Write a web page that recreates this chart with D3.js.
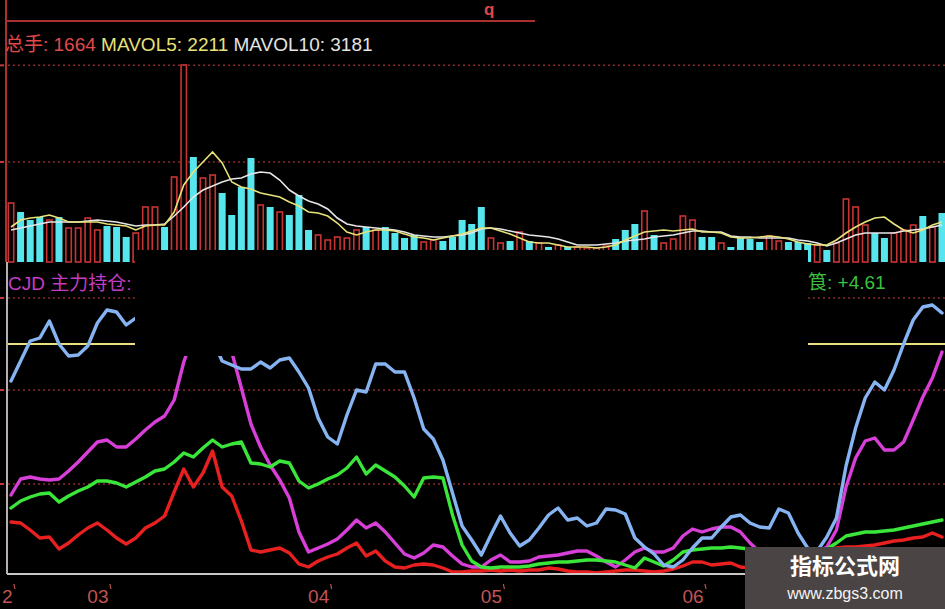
<!DOCTYPE html>
<html><head><meta charset="utf-8">
<script src="https://cdn.jsdelivr.net/npm/d3@7"></script>
<style>html,body{margin:0;padding:0;background:#000;overflow:hidden}</style>
</head><body>
<svg id="chart" width="945" height="609"></svg>
<script>
// ---------- DATA ----------
const volume = [1770,1500,1260,1350,1260,1350,1020,1020,1320,960,
1080,1050,750,870,1650,1650,1050,2550,5910,3150,
2520,2610,2070,1410,2250,3120,1710,1650,1500,1410,
2010,960,810,660,750,720,960,1050,960,1050,
870,720,810,600,660,630,750,1260,1140,1650,
720,570,630,900,630,570,450,510,450,450,
420,420,480,690,960,1140,1530,810,570,690,
1380,1260,750,750,570,450,720,690,600,780,
630,600,600,570,510,360,570,1890,1650,1110,
870,720,870,960,1110,1380,1050,1470];
// 1 = up day (hollow red), 0 = down day (cyan)
const volDir = [1,0,0,0,1,0,1,1,1,1,
0,0,0,1,1,1,0,1,1,0,
1,1,0,0,0,0,1,0,1,0,
0,0,1,1,1,1,1,0,1,0,
0,0,0,1,1,0,0,0,0,0,
1,1,0,1,0,1,0,1,0,1,
1,1,1,0,0,0,1,0,1,1,
1,1,0,0,1,0,0,0,0,1,
1,0,0,0,1,0,1,1,1,1,
0,0,1,1,1,0,1,0];
const mavol5 = [1050,1260,1320,1350,1410,1320,1200,1200,1200,1200,
1140,1110,1080,960,1080,1110,1110,1500,2310,2700,
3000,3300,2970,2400,2250,2190,2070,2010,1950,1800,
1680,1500,1470,1380,1170,900,810,900,960,960,
930,840,750,720,660,720,780,840,930,1020,
1020,930,840,720,600,570,570,510,450,450,
450,420,450,510,660,780,900,930,960,930,
960,990,900,900,870,750,720,720,750,780,
750,690,600,540,510,510,660,870,1050,1200,
1320,1350,1140,960,870,960,1110,1200];
const mavol10 = [960,1020,1080,1140,1200,1200,1200,1200,1230,1260,
1230,1200,1140,1080,1110,1110,1140,1380,1650,1950,
2160,2280,2400,2490,2520,2640,2700,2670,2460,2160,
1980,1830,1740,1590,1320,1140,1080,1050,1020,990,
960,900,810,780,750,750,780,810,870,990,
1020,990,930,870,810,780,750,690,600,510,
510,510,540,570,630,660,690,750,780,810,
870,930,930,900,900,780,750,750,720,720,
720,720,660,630,570,480,570,690,810,870,
870,870,870,930,960,990,1050,1110];

const cjdBlue = [192,212,232,235,252,229,217,218,227,250,
263,261,248,255,253,258,261,255,263,268,
253,233,212,208,204,204,211,205,213,215,
201,185,155,136,129,158,183,181,209,209,
201,201,175,144,134,113,80,47,33,18,
38,57,40,27,33,45,58,65,53,55,
47,50,64,63,59,35,26,19,8,6,
13,25,35,35,46,56,58,50,46,45,
64,60,40,25,22,36,55,107,145,175,
191,183,203,229,253,266,268,260];
const cjdMagenta = [78,94,96,94,93,94,102,111,121,131,
133,126,126,134,143,151,157,173,211,238,
253,255,243,221,185,149,126,108,93,75,
41,21,25,29,34,43,53,45,50,41,
30,19,15,20,28,26,17,9,6,6,
13,18,11,11,12,16,17,18,20,22,
22,17,11,6,13,21,25,21,21,25,
37,44,41,44,46,46,41,30,21,15,
13,13,15,17,21,26,43,86,115,132,
135,123,123,131,153,176,195,221];
const cjdGreen = [65,72,76,79,80,71,77,82,86,92,
92,90,86,91,96,102,104,111,120,116,
125,133,126,129,131,110,109,106,112,110,
92,85,89,94,98,105,116,99,108,102,
96,87,76,95,96,95,58,28,12,6,
5,6,6,6,7,9,10,11,11,12,
13,13,12,11,8,5,15,11,7,13,
21,23,24,25,25,26,25,24,24,24,
24,24,23,23,23,24,30,37,39,41,
41,42,43,45,47,49,51,53];
const cjdRed = [51,50,43,35,36,24,30,38,45,50,
43,35,29,35,45,50,57,81,104,86,
100,122,86,77,52,23,21,23,25,20,
9,6,12,16,19,25,30,17,22,12,
6,5,8,9,8,5,1,1,2,2,
3,2,3,2,3,3,5,4,2,1,
1,0,1,2,3,3,2,1,2,4,
7,11,11,8,9,10,6,5,5,6,
7,8,11,15,20,23,25,26,26,27,
28,30,32,33,35,36,40,36];
const cjdRef = 229;
const volGrid = [3000, 5900];
const cjdGrid = [89, 183, 275];
const monthIdx = [-1, 9, 32, 50, 71];
const monthLabels = ["2", "03", "04", "05", "06"];

// ---------- DRAW ----------
const W = 945, H = 609;
const svg = d3.select("#chart");
svg.append("rect").attr("width", W).attr("height", H).attr("fill", "#000");

const x = d3.scaleLinear().domain([0, volume.length - 1]).range([11, 942]);
const yV = d3.scaleLinear().domain([0, 6000]).range([262, 62]);
const yL = d3.scaleLinear().domain([0, 368]).range([573, 205]);

const gridColor = "#8a2a2a";
const g = svg.append("g");
g.selectAll("line.gv").data(volGrid).join("line").attr("class", "gv")
  .attr("x1", 8).attr("x2", W).attr("y1", d => yV(d)).attr("y2", d => yV(d))
  .attr("stroke", gridColor).attr("stroke-width", 1.5).attr("stroke-dasharray", "2,3");
g.selectAll("line.gl").data(cjdGrid).join("line").attr("class", "gl")
  .attr("x1", 8).attr("x2", W).attr("y1", d => yL(d)).attr("y2", d => yL(d))
  .attr("stroke", gridColor).attr("stroke-width", 1.5).attr("stroke-dasharray", "2,3");
g.selectAll("line.tk").data(volGrid.map(yV).concat(cjdGrid.map(yL))).join("line").attr("class", "tk")
  .attr("x1", 0).attr("x2", 4).attr("y1", d => d).attr("y2", d => d)
  .attr("stroke", "#c03a3a").attr("stroke-width", 2);

// volume bars
svg.append("g").selectAll("rect").data(volume).join("rect")
  .attr("x", (d, i) => x(i) - (volDir[i] ? 2.7 : 3.5))
  .attr("width", (d, i) => volDir[i] ? 5.4 : 7)
  .attr("y", d => yV(d))
  .attr("height", d => yV(0) - yV(d))
  .attr("fill", (d, i) => volDir[i] ? "#000" : "#58e6ee")
  .attr("stroke", (d, i) => volDir[i] ? "#c83434" : "none")
  .attr("stroke-width", 1.6);

const lineV = d3.line().x((d, i) => x(i)).y(d => yV(d));
svg.append("path").attr("d", lineV(mavol10)).attr("fill", "none")
  .attr("stroke", "#e6e6e6").attr("stroke-width", 1.6);
svg.append("path").attr("d", lineV(mavol5)).attr("fill", "none")
  .attr("stroke", "#e8e27a").attr("stroke-width", 1.6);

// lower panel
svg.append("line").attr("x1", 8).attr("x2", W).attr("y1", yL(cjdRef)).attr("y2", yL(cjdRef))
  .attr("stroke", "#e8e080").attr("stroke-width", 2.2);

const lineL = d3.line().x((d, i) => x(i)).y(d => yL(d));
const series = [
  {v: cjdRed, c: "#e82020"},
  {v: cjdMagenta, c: "#d83fd8"},
  {v: cjdGreen, c: "#3ae63a"},
  {v: cjdBlue, c: "#86b4f2"}
];
svg.append("g").selectAll("path").data(series).join("path")
  .attr("d", d => lineL(d.v)).attr("fill", "none")
  .attr("stroke", d => d.c).attr("stroke-width", 3.4)
  .attr("stroke-linejoin", "round").attr("stroke-linecap", "round");

// black mask between insets (screenshot composite)
svg.append("rect").attr("x", 135).attr("y", 250).attr("width", 673).attr("height", 106).attr("fill", "#000");

// frame lines
svg.append("line").attr("x1", 6).attr("x2", 6).attr("y1", 0).attr("y2", 262)
  .attr("stroke", "#b03030").attr("stroke-width", 2);
svg.append("line").attr("x1", 7).attr("x2", 7).attr("y1", 262).attr("y2", 574)
  .attr("stroke", "#b8b0b0").attr("stroke-width", 2);
svg.append("line").attr("x1", 6).attr("x2", 535).attr("y1", 21).attr("y2", 21)
  .attr("stroke", "#a83030").attr("stroke-width", 2);
svg.append("line").attr("x1", 7).attr("x2", W).attr("y1", 574).attr("y2", 574)
  .attr("stroke", "#c8c8c8").attr("stroke-width", 2);

const font = "'Liberation Sans', Arial, 'Noto Sans CJK SC', sans-serif";
svg.append("text").attr("x", 484).attr("y", 15).attr("fill", "#e04646")
  .attr("font-family", font).attr("font-size", 17).attr("font-weight", "bold").text("q");

const hdr = svg.append("text").attr("x", 5).attr("y", 51)
  .attr("font-family", font).attr("font-size", 19);
hdr.append("tspan").attr("fill", "#e04a4a").text("总手: 1664 ");
hdr.append("tspan").attr("fill", "#e8e27a").text("MAVOL5: 2211 ");
hdr.append("tspan").attr("fill", "#e4e4e4").text("MAVOL10: 3181");

svg.append("text").attr("x", 8).attr("y", 290).attr("fill", "#c43cc4")
  .attr("font-family", font).attr("font-size", 19).text("CJD 主力持仓:");
svg.append("text").attr("x", 808).attr("y", 289).attr("fill", "#3cc23c")
  .attr("font-family", font).attr("font-size", 19).text("筤: +4.61");

// x axis
const ax = svg.append("g").attr("transform", "translate(0,574)")
  .call(d3.axisBottom(x).tickValues(monthIdx).tickFormat((d, i) => monthLabels[i]).tickSize(0));
ax.select(".domain").remove();
ax.selectAll("text").attr("y", 29).attr("dy", 0)
  .attr("fill", "#c25454").attr("font-family", font).attr("font-size", 19);
ax.selectAll("text").filter((d, i) => i === 0).attr("text-anchor", "start").attr("x", 0);
ax.selectAll(".tick").append("line")
  .attr("x1", 12).attr("x2", 13).attr("y1", 10).attr("y2", 15)
  .attr("stroke", "#c25454").attr("stroke-width", 1.2);

// watermark
svg.append("rect").attr("x", 745).attr("y", 547).attr("width", 200).attr("height", 62).attr("fill", "#4a4444");
svg.append("text").attr("x", 845).attr("y", 574).attr("text-anchor", "middle").attr("fill", "#fff")
  .attr("font-family", "'Noto Sans CJK SC', sans-serif").attr("font-weight", "bold").attr("font-size", 22).text("指标公式网");
svg.append("text").attr("x", 845).attr("y", 599).attr("text-anchor", "middle").attr("fill", "#f4f4f4")
  .attr("font-family", font).attr("font-size", 16).text("www.zbgs3.com");
</script>
</body></html>
